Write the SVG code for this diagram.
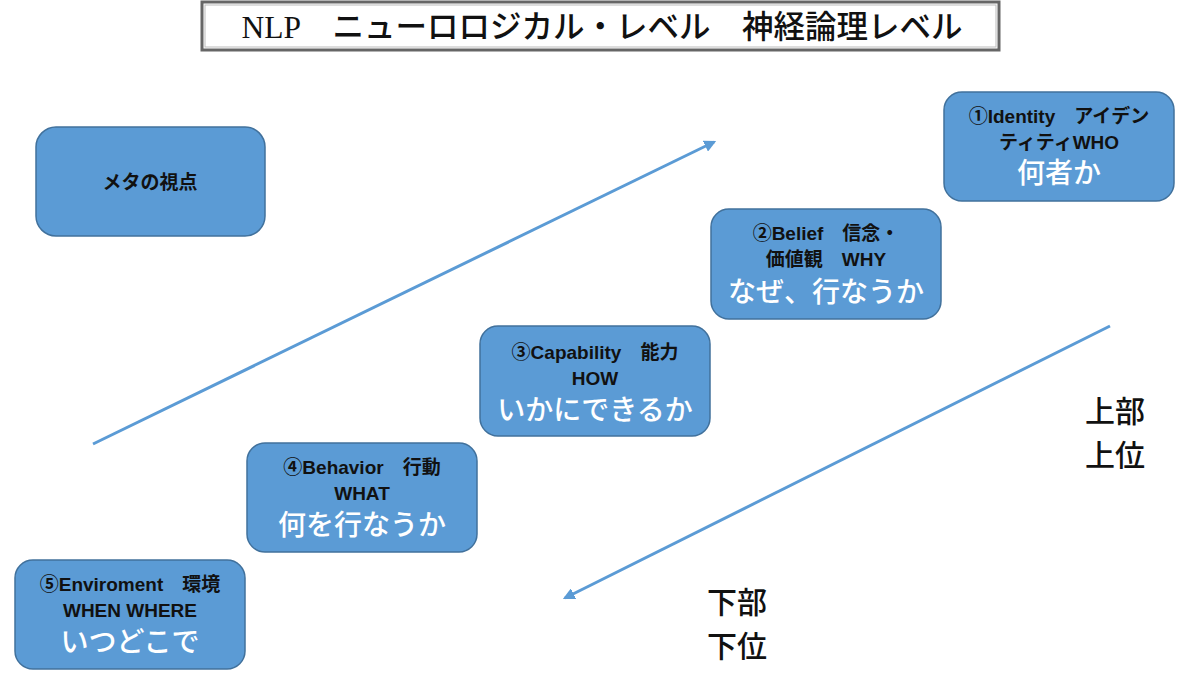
<svg xmlns="http://www.w3.org/2000/svg" width="1200" height="675" viewBox="0 0 1200 675">
<style>
.box{fill:#5b9bd5;stroke:#41719c;stroke-width:1.5}
.t1{font-family:"Liberation Sans","Noto Sans CJK JP",sans-serif;font-weight:bold;font-size:19px;fill:#111;text-anchor:middle}
.t3{font-family:"Noto Sans CJK JP",sans-serif;font-weight:500;font-size:28px;fill:#fff;text-anchor:middle}
.side{font-family:"Noto Sans CJK JP",sans-serif;font-weight:500;font-size:30px;fill:#111}
.conn{stroke:#5b9bd5;stroke-width:3;fill:none}
</style>
<defs>
<marker id="ah" viewBox="0 0 10 10" refX="8" refY="5" markerWidth="4" markerHeight="4" orient="auto" markerUnits="strokeWidth">
<path d="M0,0 L10,5 L0,10 z" fill="#5b9bd5"/>
</marker>
</defs>
<rect width="1200" height="675" fill="#fff"/>
<g id="title">
<rect x="202" y="2" width="797" height="48" fill="#fff" stroke="#666" stroke-width="3"/>
<rect x="205" y="5" width="791" height="42" fill="none" stroke="#bbb" stroke-width="1"/>
<text x="602" y="38" text-anchor="middle" font-size="31.5" fill="#111"><tspan font-family="Liberation Serif,serif">NLP</tspan><tspan font-family="Noto Sans CJK JP,sans-serif" font-weight="500">　ニューロロジカル・レベル　神経論理レベル</tspan></text>
</g>
<g id="connectors">
<line class="conn" x1="93" y1="444" x2="714" y2="142" marker-end="url(#ah)"/>
<line class="conn" x1="1110" y1="326" x2="565" y2="598" marker-end="url(#ah)"/>
</g>
<g id="meta">
<rect class="box" x="36" y="127" width="229" height="109" rx="20"/>
<text class="t1" x="150" y="189" font-size="19.5">メタの視点</text>
</g>
<g id="identity">
<rect class="box" x="944" y="92" width="230" height="109" rx="18"/>
<text class="t1" x="1059" y="123">①Identity　アイデン</text>
<text class="t1" x="1059" y="149">ティティWHO</text>
<text class="t3" x="1059" y="183">何者か</text>
</g>
<g id="belief">
<rect class="box" x="711" y="209" width="230" height="110" rx="18"/>
<text class="t1" x="826" y="240">②Belief　信念・</text>
<text class="t1" x="826" y="266">価値観　WHY</text>
<text class="t3" x="826" y="302">なぜ、行なうか</text>
</g>
<g id="capability">
<rect class="box" x="480" y="326" width="230" height="110" rx="18"/>
<text class="t1" x="595" y="359">③Capability　能力</text>
<text class="t1" x="595" y="385">HOW</text>
<text class="t3" x="595" y="420">いかにできるか</text>
</g>
<g id="behavior">
<rect class="box" x="247" y="443" width="230" height="109" rx="18"/>
<text class="t1" x="362" y="474">④Behavior　行動</text>
<text class="t1" x="362" y="500">WHAT</text>
<text class="t3" x="362" y="535">何を行なうか</text>
</g>
<g id="environment">
<rect class="box" x="15" y="560" width="230" height="109" rx="18"/>
<text class="t1" x="130" y="591">⑤Enviroment　環境</text>
<text class="t1" x="130" y="617">WHEN WHERE</text>
<text class="t3" x="130" y="652">いつどこで</text>
</g>
<g id="upper">
<text class="side" x="1085" y="422">上部</text>
<text class="side" x="1085" y="466">上位</text>
</g>
<g id="lower">
<text class="side" x="707" y="613">下部</text>
<text class="side" x="707" y="657">下位</text>
</g>
</svg>
